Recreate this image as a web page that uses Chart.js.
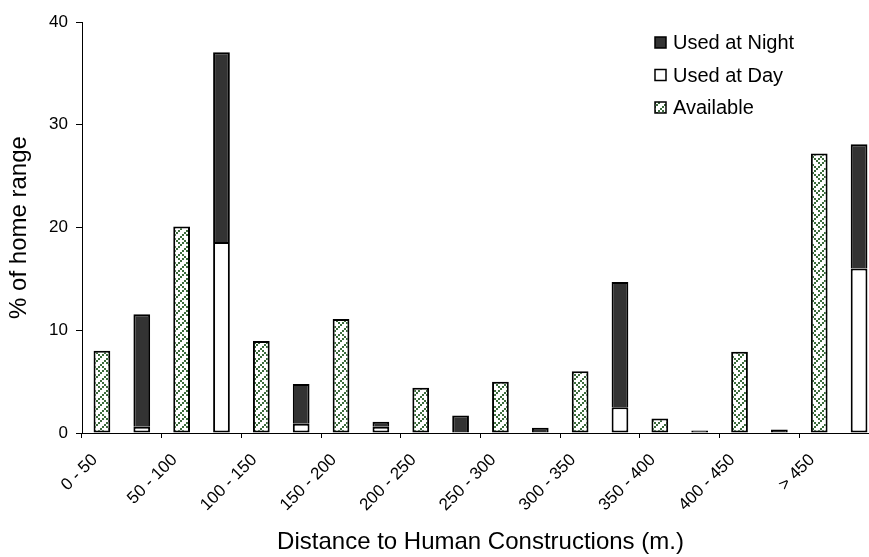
<!DOCTYPE html>
<html>
<head>
<meta charset="utf-8">
<script src="https://cdn.jsdelivr.net/npm/chart.js@4.4.1/dist/chart.umd.min.js"></script>
<style>
  html, body { margin: 0; padding: 0; background: #fff; overflow: hidden; }
</style>
</head>
<body>
<canvas id="chart" width="890" height="557" style="width:890px;height:557px"></canvas>
<script>
// Datos (% del área de campeo)
const labels = ['0 - 50', '50 - 100', '100 - 150', '150 - 200', '200 - 250',
                '250 - 300', '300 - 350', '350 - 400', '400 - 450', '> 450'];
const available = [8.0, 20.1, 8.95, 11.1, 4.4, 5.0, 6.0, 1.4, 7.9, 27.2];
const usedDay = [0.6, 18.6, 0.9, 0.6, 0, 0, 2.5, 0, 0, 16.0];
const usedNight = [10.95, 18.45, 3.87, 0.5, 1.7, 0.5, 12.2, 0.25, 0.35, 12.1];

const FONT = 'Liberation Sans, Arial, sans-serif';

// trama tipo "weave" para la serie Available
function weavePattern() {
    const rows = [
        '10001000',
        '01010100',
        '00100010',
        '01000101',
        '10001000',
        '00010101',
        '00100010',
        '01010001'
    ];
    const k = 2;
    const c = document.createElement('canvas');
    c.width = 8 * k; c.height = 8 * k;
    const g = c.getContext('2d');
    g.fillStyle = '#ffffff';
    g.fillRect(0, 0, c.width, c.height);
    g.fillStyle = '#3c6c3c';
    rows.forEach((r, y) => {
        for (let x = 0; x < 8; x++) if (r[x] === '1') g.fillRect(x * k, y * k, k, k);
    });
    return document.getElementById('chart').getContext('2d').createPattern(c, 'repeat');
}
const hatch = weavePattern();

// leyenda dentro del área del gráfico, arriba a la derecha
const boxLegend = {
    id: 'boxLegend',
    afterDraw(chart) {
        const ctx = chart.ctx;
        const order = [2, 1, 0];
        const x = 655, y0 = 42.5, step = 32.5, box = 11;
        ctx.save();
        ctx.font = '20px ' + FONT;
        ctx.textBaseline = 'middle';
        ctx.textAlign = 'left';
        order.forEach((i, k) => {
            const ds = chart.data.datasets[i];
            const y = y0 + k * step;
            ctx.fillStyle = ds.backgroundColor;
            ctx.fillRect(x, y - box / 2, box, box);
            ctx.lineWidth = 1.5;
            ctx.strokeStyle = '#000';
            ctx.strokeRect(x, y - box / 2, box, box);
            ctx.fillStyle = '#000';
            ctx.fillText(ds.label, x + 18, y + 1);
        });
        ctx.restore();
    }
};

const ctx = document.getElementById('chart').getContext('2d');
const chart = new Chart(ctx, {
    type: 'bar',
    data: {
        labels: labels,
        datasets: [
            {
                label: 'Available',
                data: available,
                stack: 'available',
                backgroundColor: hatch,
                borderColor: '#000',
                borderWidth: 2,
                borderSkipped: false
            },
            {
                label: 'Used at Day',
                data: usedDay,
                stack: 'used',
                backgroundColor: '#ffffff',
                borderColor: '#000',
                borderWidth: 2,
                borderSkipped: false
            },
            {
                label: 'Used at Night',
                data: usedNight,
                stack: 'used',
                backgroundColor: '#333333',
                borderColor: '#000',
                borderWidth: 2,
                borderSkipped: 'start'
            }
        ]
    },
    options: {
        responsive: false,
        animation: false,
        categoryPercentage: 1.0,
        barPercentage: 0.42,
        layout: { padding: { top: 22, right: 11, left: 0, bottom: 0 } },
        plugins: {
            legend: { display: false },
            tooltip: { enabled: false }
        },
        scales: {
            x: {
                stacked: true,
                grid: { offset: true, drawOnChartArea: false, drawTicks: true, tickLength: 5, color: '#000' },
                border: { color: '#000', width: 1 },
                ticks: {
                    font: { family: FONT, size: 17 },
                    color: '#000',
                    autoSkip: false,
                    maxRotation: 45,
                    minRotation: 45,
                    labelOffset: -27,
                    padding: 12
                },
                title: {
                    display: true,
                    text: 'Distance to Human Constructions (m.)',
                    font: { family: FONT, size: 24 },
                    color: '#000',
                    padding: { top: 0, bottom: 0 }
                },
                afterFit: s => { s.height = 124; }
            },
            y: {
                stacked: true,
                min: 0,
                max: 40,
                grid: { drawOnChartArea: false, drawTicks: true, tickLength: 6, color: '#000' },
                border: { color: '#000', width: 1 },
                ticks: {
                    stepSize: 10,
                    font: { family: FONT, size: 17 },
                    color: '#000',
                    padding: 8
                },
                title: {
                    display: true,
                    text: '% of home range',
                    font: { family: FONT, size: 24 },
                    color: '#000',
                    padding: { top: 5, bottom: 0 }
                },
                afterFit: s => { s.width = 82; }
            }
        }
    },
    plugins: [boxLegend]
});
</script>
</body>
</html>
